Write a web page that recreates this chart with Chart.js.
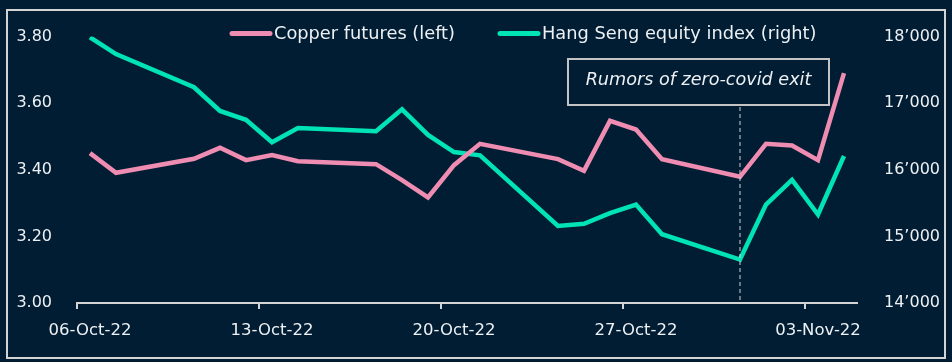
<!DOCTYPE html>
<html>
<head>
<meta charset="utf-8">
<script src="https://cdn.jsdelivr.net/npm/chart.js@4.4.0/dist/chart.umd.min.js"></script>
<style>
  html, body { margin: 0; padding: 0; background: #001d33; }
  canvas { display: block; }
</style>
</head>
<body>
<canvas id="chart" width="952" height="362"></canvas>
<script>
// Data (trading days only)
const tradeDates = ['2022-10-06', '2022-10-07', '2022-10-10', '2022-10-11', '2022-10-12', '2022-10-13', '2022-10-14',
  '2022-10-17', '2022-10-18', '2022-10-19', '2022-10-20', '2022-10-21', '2022-10-24', '2022-10-25', '2022-10-26',
  '2022-10-27', '2022-10-28', '2022-10-31', '2022-11-01', '2022-11-02', '2022-11-03', '2022-11-04'];
const copper = [3.450, 3.391, 3.433, 3.466, 3.429, 3.444, 3.426, 3.417, 3.369, 3.317, 3.414, 3.478,
  3.432, 3.397, 3.547, 3.521, 3.432, 3.379, 3.478, 3.473, 3.429, 3.690];
const hangSeng = [17990, 17738, 17240, 16884, 16751, 16415, 16627, 16578, 16908, 16523, 16267, 16218,
  15156, 15190, 15348, 15477, 15033, 14652, 15477, 15847, 15329, 16207];

const xTickLabels = ['06-Oct-22', '13-Oct-22', '20-Oct-22', '27-Oct-22', '03-Nov-22'];
const xTickDays = [0, 7, 14, 21, 28];
const seriesNames = ['Copper futures (left)', 'Hang Seng equity index (right)'];
const eventDate = '2022-10-31';
const eventLabel = 'Rumors of zero-covid exit';

const PINK = '#ef8cb2';
const GREEN = '#00e3b5';
const TEXT = '#eef1f4';
const LINE = '#d4d4d4';
const FONT = '"DejaVu Sans"';

// day offset from first date, points sit in the middle of their day
const startDay = Date.UTC(2022, 9, 6);
function dayPos(s) {
  const [y, m, d] = s.split('-').map(Number);
  return (Date.UTC(y, m - 1, d) - startDay) / 86400000 + 0.5;
}

function points(values) {
  return values.map((v, i) => ({ x: dayPos(tradeDates[i]), y: v }));
}

// background, frame, legend and annotation
const decorPlugin = {
  id: 'decor',
  beforeDraw(chart) {
    const ctx = chart.ctx;
    ctx.save();
    ctx.fillStyle = '#001d33';
    ctx.fillRect(0, 0, chart.width, chart.height);
    ctx.strokeStyle = LINE;
    ctx.lineWidth = 2;
    ctx.strokeRect(7, 10, 938, 348);
    ctx.restore();
  },
  afterDatasetsDraw(chart) {
    const ctx = chart.ctx;
    const area = chart.chartArea;
    const ex = chart.scales.x.getPixelForValue(dayPos(eventDate));
    ctx.save();

    // dashed marker
    ctx.strokeStyle = LINE;
    ctx.lineWidth = 1;
    ctx.setLineDash([4, 3]);
    ctx.beginPath();
    ctx.moveTo(ex, 107);
    ctx.lineTo(ex, area.bottom);
    ctx.stroke();
    ctx.setLineDash([]);

    // annotation box
    ctx.lineWidth = 2;
    ctx.strokeStyle = '#c4c4c4';
    ctx.strokeRect(ex - 172, 59, 261, 46);
    ctx.fillStyle = TEXT;
    ctx.font = 'italic 17.6px ' + FONT;
    ctx.textAlign = 'center';
    ctx.textBaseline = 'middle';
    ctx.fillText(eventLabel, ex - 41.5, 80);

    // legend
    const items = [
      { x: 232, color: PINK, label: seriesNames[0] },
      { x: 500, color: GREEN, label: seriesNames[1] }
    ];
    ctx.font = '17.8px ' + FONT;
    ctx.textAlign = 'left';
    items.forEach(it => {
      ctx.strokeStyle = it.color;
      ctx.lineWidth = 5;
      ctx.lineCap = 'round';
      ctx.beginPath();
      ctx.moveTo(it.x, 33.5);
      ctx.lineTo(it.x + 38, 33.5);
      ctx.stroke();
      ctx.fillStyle = TEXT;
      ctx.fillText(it.label, it.x + 42, 34);
    });
    ctx.restore();
  }
};

new Chart(document.getElementById('chart'), {
  type: 'line',
  data: {
    datasets: [{
      label: seriesNames[0],
      data: points(copper),
      yAxisID: 'y',
      borderColor: PINK,
      borderWidth: 4.5,
      pointRadius: 0,
      tension: 0
    }, {
      label: seriesNames[1],
      data: points(hangSeng),
      yAxisID: 'y1',
      borderColor: GREEN,
      borderWidth: 4.5,
      pointRadius: 0,
      tension: 0
    }]
  },
  options: {
    responsive: false,
    animation: false,
    devicePixelRatio: 1,
    layout: { padding: { top: 31, left: 0, right: 0, bottom: 0 } },
    plugins: {
      legend: { display: false },
      tooltip: { enabled: false }
    },
    scales: {
      x: {
        type: 'linear',
        min: 0,
        max: 30,
        afterBuildTicks: (scale) => { scale.ticks = xTickDays.map(v => ({ value: v })); },
        afterFit: (scale) => { scale.height = 59; },
        grid: { display: true, drawOnChartArea: false, drawTicks: true, tickLength: 6, color: LINE, lineWidth: 2 },
        border: { display: true, color: LINE, width: 2 },
        ticks: {
          color: TEXT,
          font: { family: FONT, size: 16.5 },
          padding: 12,
          labelOffset: 13,
          maxRotation: 0,
          autoSkip: false,
          callback: (v, i) => xTickLabels[i]
        }
      },
      y: {
        position: 'left',
        min: 3.0,
        max: 3.8,
        afterFit: (scale) => { scale.width = 77; },
        grid: { display: false, drawTicks: false },
        border: { display: false },
        ticks: {
          stepSize: 0.2,
          color: TEXT,
          font: { family: FONT, size: 16 },
          padding: 25,
          callback: (v) => v.toFixed(2)
        }
      },
      y1: {
        position: 'right',
        min: 14000,
        max: 18000,
        afterFit: (scale) => { scale.width = 95; },
        grid: { display: false, drawTicks: false },
        border: { display: false },
        ticks: {
          stepSize: 1000,
          color: TEXT,
          font: { family: FONT, size: 16 },
          padding: 27,
          callback: (v) => String(v / 1000) + '\u2019000'
        }
      }
    }
  },
  plugins: [decorPlugin]
});
</script>
</body>
</html>
